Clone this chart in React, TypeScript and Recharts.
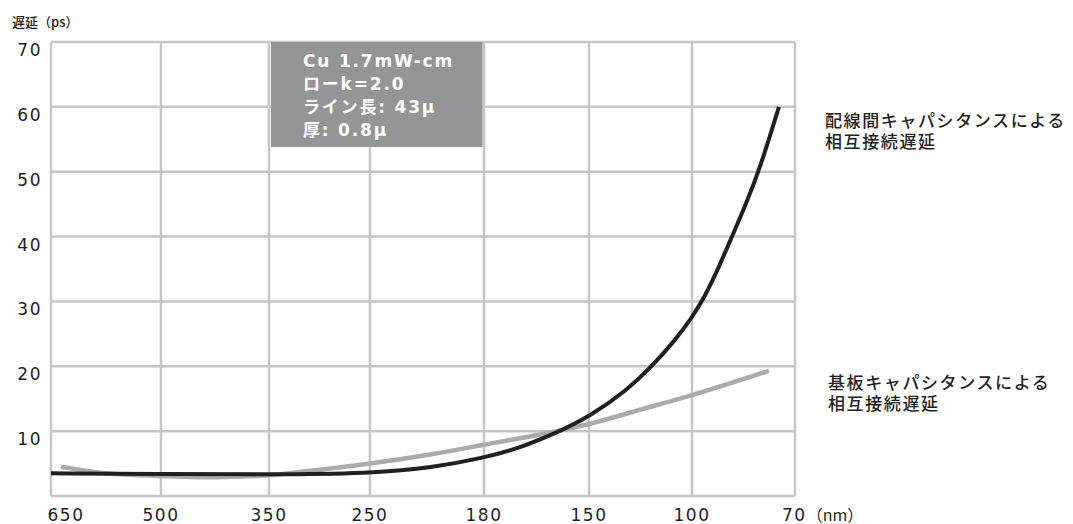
import React from 'react';
import { LineChart, Line, XAxis, YAxis, CartesianGrid, ReferenceArea } from 'recharts';

// Feature-size axis (nm), non-uniform scale: tick positions
const xTickLabels = ['650', '500', '350', '250', '180', '150', '100', '70'];
const xTickPositions = [0, 1.035, 2.051, 3.001, 4.074, 5.062, 6.031, 7];
const yTicks = [0, 10, 20, 30, 40, 50, 60, 70];

// 配線間キャパシタンスによる相互接続遅延 (ps)
const wiringX = [0, 1.035, 2.051, 3.001, 3.566, 4.074, 4.412, 4.789, 5.062, 5.419, 5.655, 5.871, 6.031, 6.153, 6.276, 6.407, 6.539, 6.67, 6.849];
const wiringDelay = [3.5, 3.4, 3.3, 3.5, 4.3, 5.9, 7.4, 10, 12.2, 16.3, 20, 24, 27.5, 30.8, 35, 40, 45, 50.5, 60];

// 基板キャパシタンスによる相互接続遅延 (ps)
const substrateX = [0.094, 0.461, 1.035, 1.543, 2.051, 2.343, 3.001, 3.566, 4.074, 4.789, 5.062, 5.542, 6.04, 6.755];
const substrateDelay = [4.5, 3.6, 3.1, 2.9, 3.2, 3.7, 5.0, 6.4, 7.9, 10.1, 11.1, 13.3, 15.6, 19.3];

const boxLines = ['Cu 1.7mW-cm', 'ローk=2.0', 'ライン長: 43μ', '厚: 0.8μ'];
const wiringLabel = ['配線間キャパシタンスによる', '相互接続遅延'];
const substrateLabel = ['基板キャパシタンスによる', '相互接続遅延'];

const wiringData = wiringX.map((x, i) => ({ x, y: wiringDelay[i] }));
const substrateData = substrateX.map((x, i) => ({ x, y: substrateDelay[i] }));

const numFont = '"DejaVu Sans", sans-serif';
const cjkFont = '"Noto Sans CJK JP", "DejaVu Sans", sans-serif';

const XTick = (props: any) => {
  const { x, y, payload, index } = props;
  const idx = typeof index === 'number' ? index : xTickPositions.indexOf(payload.value);
  const label = xTickLabels[idx];
  if (idx === 0) {
    return (
      <text x={x + 15} y={y + 25} textAnchor="middle" fontFamily={numFont} fontSize={17} letterSpacing={1.5} fill="#231f20">
        {label}
      </text>
    );
  }
  if (idx === 7) {
    return (
      <text x={x - 13} y={y + 25} textAnchor="start" fontFamily={numFont} fontSize={17} letterSpacing={1.5} fill="#231f20">
        {label}
        <tspan fontFamily={cjkFont} fontSize={16} letterSpacing={0}>（nm）</tspan>
      </text>
    );
  }
  return (
    <text x={x} y={y + 25} textAnchor="middle" fontFamily={numFont} fontSize={17} letterSpacing={1.5} fill="#231f20">
      {label}
    </text>
  );
};

const YTick = (props: any) => {
  const { x, y, payload } = props;
  if (payload.value === 0) return null;
  return (
    <text x={x - 9} y={y + 14} textAnchor="end" fontFamily={numFont} fontSize={17} letterSpacing={1.5} fill="#231f20">
      {payload.value}
    </text>
  );
};

export default function App() {
  return (
    <div style={{ position: 'absolute', left: 0, top: 0, width: 1073, height: 524, background: '#fff' }}>
      <LineChart width={1073} height={524} margin={{ top: 42, right: 278, bottom: 0, left: 0 }}>
        <CartesianGrid stroke="#c5c6c8" strokeWidth={2.5} horizontalValues={yTicks} verticalValues={xTickPositions} />
        <XAxis
          type="number"
          dataKey="x"
          domain={[0, 7]}
          ticks={xTickPositions}
          tick={<XTick />}
          tickLine={false}
          tickSize={0}
          tickMargin={0}
          axisLine={false}
          height={28}
          interval={0}
          allowDataOverflow
        />
        <YAxis
          type="number"
          domain={[0, 70]}
          ticks={yTicks}
          tick={<YTick />}
          tickLine={false}
          tickSize={0}
          tickMargin={0}
          axisLine={false}
          width={51}
          interval={0}
        />
        <ReferenceArea x1={2.07} x2={4.06} y1={53.8} y2={70} fill="#939598" fillOpacity={1} stroke="none" ifOverflow="visible" />
        <Line data={substrateData} dataKey="y" type="monotone" stroke="#a9abae" strokeWidth={4.5} dot={false} isAnimationActive={false} />
        <Line data={wiringData} dataKey="y" type="basis" stroke="#231f20" strokeWidth={4} dot={false} isAnimationActive={false} />
      </LineChart>
      <svg width={1073} height={524} style={{ position: 'absolute', left: 0, top: 0, pointerEvents: 'none' }}>
        <text x={12} y={27} fontFamily={cjkFont} fontSize={13} fontWeight={500} fill="#231f20">遅延（ps）</text>
        {boxLines.map((t, i) => (
          <text key={t} x={303} y={67 + i * 23} fontFamily={'"DejaVu Sans", "Noto Sans CJK JP", sans-serif'} fontSize={17} fontWeight="bold" letterSpacing={1.8} fill="#ffffff">
            {t}
          </text>
        ))}
        {wiringLabel.map((t, i) => (
          <text key={t} x={825} y={127 + i * 21} fontFamily={cjkFont} fontSize={17} fontWeight={500} letterSpacing={1.6} fill="#231f20">{t}</text>
        ))}
        {substrateLabel.map((t, i) => (
          <text key={t} x={828} y={389 + i * 21} fontFamily={cjkFont} fontSize={17} fontWeight={500} letterSpacing={1.6} fill="#231f20">{t}</text>
        ))}
      </svg>
    </div>
  );
}
